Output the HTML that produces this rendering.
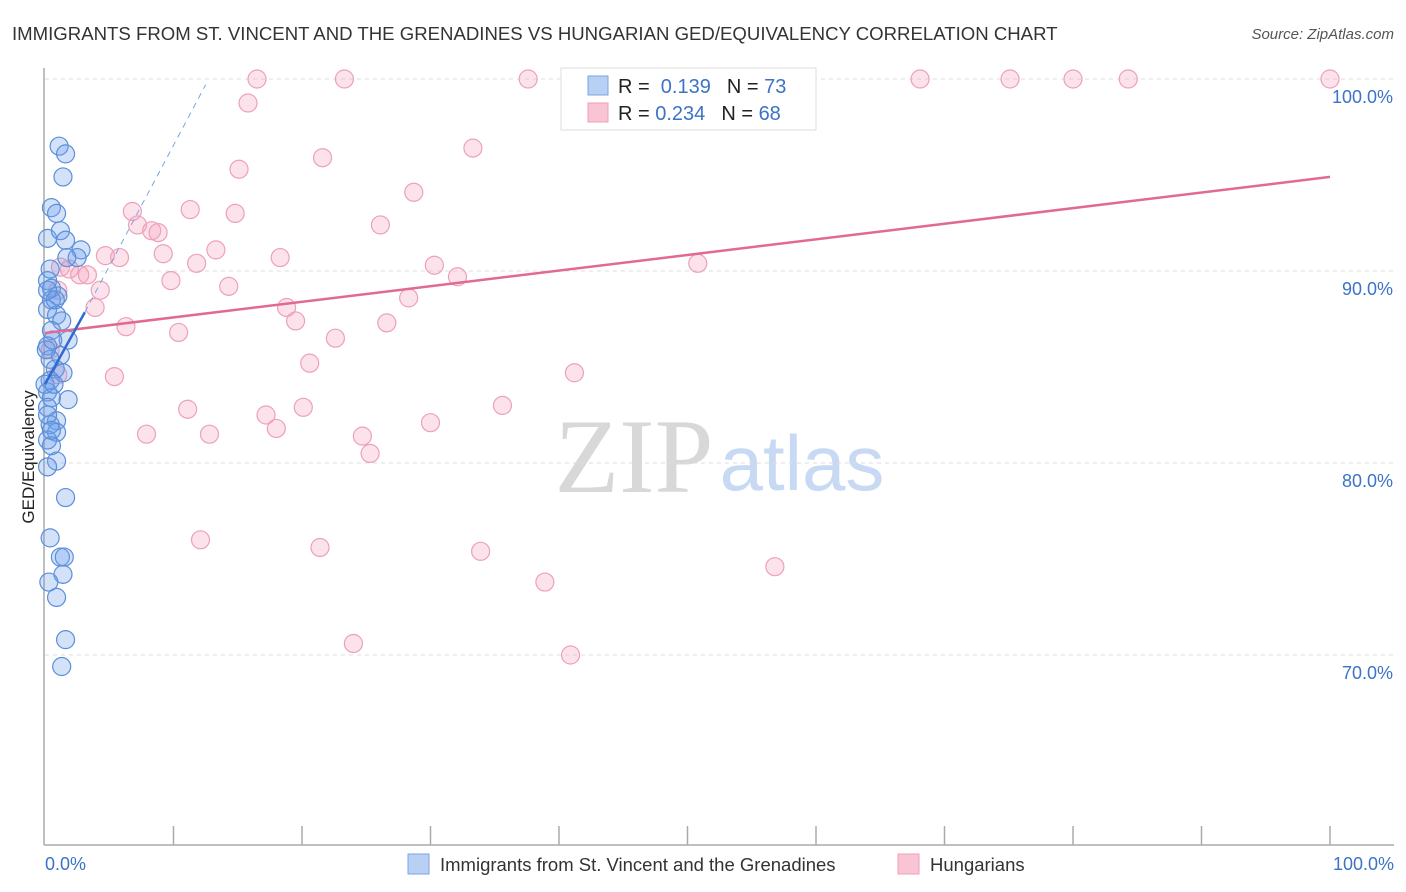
<!DOCTYPE html>
<html><head><meta charset="utf-8"><style>
body{margin:0;background:#fff;font-family:"Liberation Sans",sans-serif;}
svg{display:block}
</style></head><body>
<svg id="chart" width="1406" height="892">
<text x="12" y="40" font-size="18.6" fill="#333">IMMIGRANTS FROM ST. VINCENT AND THE GRENADINES VS HUNGARIAN GED/EQUIVALENCY CORRELATION CHART</text>
<text x="1394" y="39" font-size="15" fill="#555" font-style="italic" text-anchor="end">Source: ZipAtlas.com</text>
<text x="634" y="492" font-size="106" fill="#d8d8d8" font-family="Liberation Serif,serif" text-anchor="middle">ZIP</text>
<text x="802" y="490" font-size="78" fill="#c8daf3" text-anchor="middle">atlas</text>
<g id="grid"></g><g id="pts"></g><g id="lines"></g>
<text transform="translate(34,457) rotate(-90)" font-size="17" fill="#222" text-anchor="middle">GED/Equivalency</text>
<text x="45" y="870" font-size="18" fill="#3b73c7">0.0%</text>
<text x="1394" y="870" font-size="18" fill="#3b73c7" text-anchor="end">100.0%</text>
<g>
<rect x="561" y="68" width="255" height="62" fill="#fff" stroke="#ddd"/>
<rect x="588" y="76" width="20" height="19" fill="#b7d0f3" stroke="#7aa6e0"/>
<rect x="588" y="103" width="20" height="19" fill="#f9c5d5" stroke="#ee9fb8"/>
<text x="618" y="93" font-size="20" fill="#222">R = <tspan fill="#3b73c7">&#160;0.139</tspan><tspan dx="16">N = </tspan><tspan fill="#3b73c7">73</tspan></text>
<text x="618" y="120" font-size="20" fill="#222">R = <tspan fill="#3b73c7">0.234</tspan><tspan dx="16">N = </tspan><tspan fill="#3b73c7">68</tspan></text>
</g>
<g>
<rect x="408" y="854" width="21" height="20" fill="#b7d0f3" stroke="#7aa6e0"/>
<text x="440" y="871" font-size="18.5" fill="#333">Immigrants from St. Vincent and the Grenadines</text>
<rect x="898" y="854" width="21" height="20" fill="#f9c5d5" stroke="#ee9fb8"/>
<text x="930" y="871" font-size="18.5" fill="#333">Hungarians</text>
</g>
</svg>
<script>
const blueX=[1.1,1.6,1.4,0.5,0.9,0.2,1.2,1.6,2.8,2.5,1.7,0.2,0.5,1.0,0.5,0.2,0.9,1.3,0.5,1.8,0.2,1.2,0.4,0.8,1.4,0.4,0.2,0.5,1.8,0.2,0.9,0.4,0.9,0.2,0.5,0.9,0.2,1.6,0.4,1.2,1.5,1.4,0.3,0.9,1.6,1.3,0.0,0.1,0.4,0.8,0.2,0.6,0.7,0.2,0.5];
const blueY=[96.5,96.1,94.9,93.3,93.0,91.7,92.1,91.6,91.1,90.7,90.7,89.5,89.1,88.7,88.5,88.0,87.7,87.4,86.9,86.4,86.1,85.6,85.4,84.9,84.7,84.3,83.7,83.4,83.3,82.9,82.2,82.0,81.6,81.2,80.9,80.1,79.8,78.2,76.1,75.1,75.1,74.2,73.8,73.0,70.8,69.4,84.1,85.9,90.1,88.5,89.0,86.4,84.1,82.5,81.7];
const pinkX=[16.5,23.3,37.6,53.9,68.1,75.1,80.0,84.3,100,15.8,21.6,33.3,15.1,28.7,6.8,11.3,14.8,7.2,8.3,8.8,26.1,13.3,4.7,5.8,9.2,18.3,11.8,30.3,32.1,50.8,1.2,1.9,2.7,3.3,9.8,14.3,4.3,28.3,18.8,3.9,19.5,26.6,6.3,10.4,22.6,20.6,5.4,41.2,1.0,11.1,17.2,20.1,35.6,7.9,12.8,18.0,30.0,24.7,25.3,12.1,21.4,33.9,56.8,38.9,24.0,40.9,1.0,0.4];
const pinkY=[100,100,100,100,100,100,100,100,100,98.75,95.9,96.4,95.3,94.1,93.1,93.2,93.0,92.4,92.1,92.0,92.4,91.1,90.8,90.7,90.9,90.7,90.4,90.3,89.7,90.4,90.2,90.1,89.8,89.8,89.5,89.2,89.0,88.6,88.1,88.1,87.4,87.3,87.1,86.8,86.5,85.2,84.5,84.7,84.6,82.8,82.5,82.9,83.0,81.5,81.5,81.8,82.1,81.4,80.5,76.0,75.6,75.4,74.6,73.8,70.6,70.0,89.0,85.9];
const yTicks=[100,90,80,70];
const yTickLabels=["100.0%","90.0%","80.0%","70.0%"];
const blueTrend=[[0,84.1],[3.1,87.85]];
const blueDash=[[3.1,87.85],[12.5,99.7]];
const pinkTrend=[[0,86.77],[100,94.9]];
const NS="http://www.w3.org/2000/svg";
const X=v=>45+v*12.85, Y=v=>79+(100-v)*19.2;
function mk(tag,attrs,parent){const e=document.createElementNS(NS,tag);for(const k in attrs)e.setAttribute(k,attrs[k]);parent.appendChild(e);return e;}
const grid=document.getElementById('grid');
yTicks.forEach((t,i)=>{
 const l=mk('line',{x1:45,x2:1394,y1:Y(t),y2:Y(t),stroke:'#ddd','stroke-dasharray':'4,4'},grid);
 
 
 const tx=mk('text',{x:1393,y:Y(t)+24,'font-size':18,fill:'#3b73c7','text-anchor':'end'},grid);
 tx.textContent=yTickLabels[i];
 
 
});
const ax=mk('line',{x1:44,x2:44,y1:68,y2:845,stroke:'#aaa','stroke-width':1.5},grid);


const bx=mk('line',{x1:44,x2:1394,y1:845,y2:845,stroke:'#aaa','stroke-width':1.5},grid);


for(let k=1;k<=10;k++){const t=mk('line',{x1:X(k*10),x2:X(k*10),y1:826,y2:845,stroke:'#aaa','stroke-width':1.5},grid);
 
 }
const pts=document.getElementById('pts');
pinkX.forEach((v,i)=>{const c=mk('circle',{cx:X(v),cy:Y(pinkY[i]),r:9,fill:'rgba(244,160,190,0.3)',stroke:'#eda0ba','stroke-width':1.2},pts);
 
 });
blueX.forEach((v,i)=>{const c=mk('circle',{cx:X(v),cy:Y(blueY[i]),r:9,fill:'rgba(110,160,235,0.3)',stroke:'#5b8fd8','stroke-width':1.2},pts);
 
 });
const lines=document.getElementById('lines');
const pl=mk('line',{x1:X(pinkTrend[0][0]),y1:Y(pinkTrend[0][1]),x2:X(pinkTrend[1][0]),y2:Y(pinkTrend[1][1]),stroke:'#e06a93','stroke-width':2.5},lines);


const bl=mk('line',{x1:X(blueTrend[0][0]),y1:Y(blueTrend[0][1]),x2:X(blueTrend[1][0]),y2:Y(blueTrend[1][1]),stroke:'#2f6ad0','stroke-width':2.5},lines);


const bd=mk('line',{x1:X(blueDash[0][0]),y1:Y(blueDash[0][1]),x2:X(blueDash[1][0]),y2:Y(blueDash[1][1]),stroke:'#7aa6e0','stroke-width':1,'stroke-dasharray':'6,5'},lines);


</script>
</body></html>
